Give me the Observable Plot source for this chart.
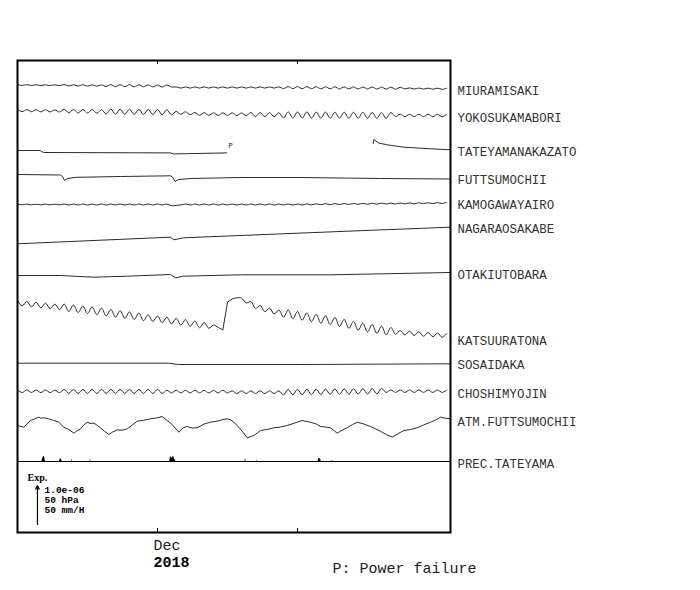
<!DOCTYPE html>
<html><head><meta charset="utf-8">
<script src="https://cdn.jsdelivr.net/npm/d3@7"></script>
<script src="https://cdn.jsdelivr.net/npm/@observablehq/plot@0.6"></script>
<style>body{margin:0;background:#fff}</style>
</head><body><div id="chart"></div>
<script>
// ---------- DATA ----------
// Values are deviations from each trace's first reading, in units of 1/40 of the scale bar
// (1 unit = 2.5e-8 strain, 1.25 hPa, 1.25 mm/H). Upward = extension / higher.
const stationNames = ["MIURAMISAKI","YOKOSUKAMABORI","TATEYAMANAKAZATO","FUTTSUMOCHII","KAMOGAWAYAIRO",
  "NAGARAOSAKABE","OTAKIUTOBARA","KATSUURATONA","SOSAIDAKA","CHOSHIMYOJIN","ATM.FUTTSUMOCHII","PREC.TATEYAMA"];

// half-day samples from 2018-11-16 00:00
const miura = [0.4,-0.4,0.3,-0.5,0.3,-0.6,0.2,-0.6,0.2,-0.7,
 0.4,-1.0,0.3,-1.1,0.3,-1.2,0.2,-1.2,0.1,-1.6,
 0.4,-1.7,0.3,-1.7,0.2,-1.8,0.2,-1.8,0.1,-1.9,
 0.0,-2.0,0.0,-2.0,-1.9,-3.1,-1.9,-3.1,-1.9,-3.1,
 -1.9,-3.1,-1.9,-3.1,-1.9,-3.1,-1.9,-3.1,-1.9,-3.1,
 -1.9,-3.1,-1.9,-3.1,-1.9,-3.1,-1.9,-3.6,-1.6,-3.6,
 -1.6,-3.7,-1.7,-3.7,-1.7,-3.8,-1.8,-3.8,-1.8,-3.9,
 -1.9,-3.9,-1.9,-4.0,-2.0,-4.0,-2.1,-4.1,-2.1,-4.1,
 -2.2,-4.2,-2.3,-3.9,-2.9,-4.0,-3.0,-4.1,-3.1,-4.2,
 -3.2,-4.3,-3.3];
const yokosuka = [1.0,-1.1,0.9,-1.2,0.8,-1.3,0.7,-1.4,0.6,-1.5,
 1.2,-2.4,1.1,-2.5,1.0,-2.6,0.9,-2.7,0.8,-3.5,
 1.4,-3.6,1.3,-3.8,1.2,-3.9,1.1,-4.0,1.0,-4.1,
 0.9,-4.2,0.8,-4.3,-0.9,-3.8,-1.3,-4.2,-2.0,-4.8,
 -2.2,-4.8,-2.3,-4.9,-2.3,-4.9,-2.4,-5.0,-2.5,-5.1,
 -2.0,-6.0,-2.1,-6.1,-2.2,-6.2,-2.3,-7.4,-1.4,-7.5,
 -1.5,-7.5,-1.5,-7.6,-1.6,-7.6,-1.6,-7.7,-1.7,-7.7,
 -1.7,-7.8,-1.8,-7.8,-1.8,-7.8,-1.9,-7.9,-2.0,-7.9,
 -2.0,-6.1,-3.7,-6.1,-3.8,-6.1,-3.8,-6.2,-3.8,-6.2,
 -3.8,-6.2,-3.8];
const kamogawa = [0.3,-0.3,0.3,-0.3,0.3,-0.3,0.3,-0.3,0.3,-0.3,
 0.5,-0.5,0.5,-0.5,0.5,-0.5,0.5,-0.5,0.5,-0.5,
 0.5,-0.5,0.5,-0.5,0.5,-0.5,0.5,-0.5,0.5,-0.5,
 0.5,-0.5,0.4,-1.3,-0.8,-0.5,0.5,-0.5,0.5,-0.5,
 0.5,-0.5,0.5,-0.5,0.5,-0.5,0.5,-0.5,0.5,-0.5,
 0.5,-0.5,0.5,-0.5,0.5,-0.5,0.5,-0.5,0.5,-0.5,
 0.5,-0.45,0.6,-0.35,0.7,-0.25,0.8,-0.15,0.9,-0.05,
 1.0,0.0,1.1,0.1,1.2,0.2,1.3,0.3,1.4,0.4,
 1.4,0.5,1.5,0.6,1.6,0.7,1.7,0.8,1.8,0.9,
 1.9,1.0,2.0];
const katsuura = [1.0,-4.5,0.1,-5.4,-0.8,-6.3,-1.7,-7.2,-2.6,-8.1,
 -2.5,-10.0,-3.5,-11.0,-4.5,-12.0,-5.5,-13.1,-6.7,-14.4,
 -8.0,-15.6,-9.2,-16.8,-10.4,-18.0,-11.6,-19.2,-13.3,-19.9,
 -14.5,-21.1,-15.7,-22.3,-16.9,-23.5,-18.1,-24.7,-19.5,-26.2,
 -21.0,-26.8,-23.6,-26.0,-28.3,-0.7,2.5,3.7,3.5,-1.5,
 0.0,-7.0,-4.0,-10.2,-6.5,-12.5,-8.5,-15.7,-8.5,-17.2,
 -10.0,-18.7,-11.4,-20.1,-12.9,-21.6,-14.3,-23.0,-16.0,-24.9,
 -17.9,-26.8,-19.8,-28.7,-21.7,-30.4,-23.1,-31.9,-24.6,-33.3,
 -26.0,-32.7,-29.0,-33.4,-29.7,-34.0,-30.3,-34.7,-31.0,-35.3,
 -31.5,-35.8,-32.0];
const choshi = [1.3,-1.3,1.3,-1.3,1.2,-1.4,1.2,-1.4,1.1,-1.5,
 1.8,-2.2,1.8,-2.2,1.8,-2.2,1.8,-2.2,1.8,-2.2,
 1.8,-2.2,1.8,-2.2,1.8,-2.2,1.8,-2.2,1.8,-2.2,
 1.8,-2.2,0.9,-1.7,0.9,-1.7,0.9,-1.7,0.9,-1.7,
 0.9,-1.7,0.9,-1.7,0.9,-1.7,0.3,-2.3,0.3,-2.3,
 0.3,-2.3,0.3,-2.3,0.3,-2.3,0.3,-3.7,1.75,-3.6,
 1.85,-3.5,1.95,-3.4,2.05,-3.3,2.15,-3.2,2.25,-3.1,
 2.35,-3.0,2.45,-2.9,2.55,-2.8,2.65,-2.75,2.7,-1.2,
 1.2,-1.2,1.2,-1.2,1.2,-1.2,1.2,-1.2,1.2,-1.2,
 1.2,-1.2,1.2];

// [day since 2018-11-16, value]
const tateyama = [[0,0],[2.4,0],[2.6,-1],[2.8,-2],[16.4,-2.4],[16.7,-3.4],[18,-3.2],[22.4,-2.4],
 [30,NaN],[38.11,7],[38.18,11],[38.68,7.5],[39.61,5.7],[41.39,3.3],[44.25,1.7],[46.39,0.7]];
const futtsu = [[0,0],[4.61,-0.5],[4.82,-2],[5.04,-6],[5.36,-4],[6.32,-2.8],[11.04,-2],[16.39,-1.3],
 [16.61,-2.5],[16.88,-7],[17.25,-5],[18.54,-4],[23.89,-3],[30.32,-3],[38.89,-4],[46.39,-4.5]];
const nagara = [[0,0],[6.43,2.6],[16.39,6.6],[16.77,4],[17.79,6],[23.89,8.3],[35.36,12.6],[46.39,16.6]];
const otaki = [[0,0],[4.61,0],[8.14,-1.7],[11.79,-0.7],[16.39,1],[16.93,-2.3],[17.79,-0.7],[23.89,0.7],[33.54,0.7],[46.39,3]];
const sosai = [[0,0],[16.18,0],[17.25,-1.3],[30.32,-1.3],[46.39,-0.6]];
const atm = [[0,0],[0.68,-1.7],[1.0,1.5],[1.39,5],[1.8,6.5],[2.28,8.3],[2.55,7.2],[2.82,7.7],[3.3,6.8],[3.89,5],
 [4.4,3.5],[4.96,-1.7],[5.5,-4],[6.03,-7.7],[6.4,-5],[6.75,-3.3],[7.1,0.5],[7.47,3.3],[7.8,2],[8.18,2.3],
 [8.5,0.5],[8.89,-2.3],[9.3,-5.5],[9.78,-9],[10.2,-6.5],[10.68,-4.3],[11.2,-4.8],[11.75,-3.3],[12.3,0.5],
 [12.83,4.3],[13.5,5.2],[14.25,6.7],[14.9,7.5],[15.5,9],[16.04,5],[16.4,2.5],[16.75,-1],[17.28,-6.7],
 [17.7,-2.5],[18.18,-1],[18.7,-2.5],[19.25,-2.3],[20.0,1.5],[20.68,3.3],[21.5,4.5],[22.0,6],[22.47,6.7],
 [22.82,5.7],[23.2,3],[23.54,0],[24.1,-6],[24.61,-12.3],[25.32,-10],[25.7,-7.5],[26.04,-5],[26.7,-4],
 [27.46,-2.3],[28.2,-1.5],[28.9,0],[29.7,2.5],[30.5,5],[31.0,4],[31.39,3.3],[32.0,1.5],[32.46,-1],
 [33.0,-1.5],[33.54,-2.3],[33.9,-5],[34.25,-7.7],[34.8,-4.5],[35.32,-2.3],[35.9,1],[36.4,3.3],[37.1,1.5],
 [37.82,-1],[38.4,-3.5],[38.89,-5.7],[39.5,-9],[40.15,-11.7],[40.8,-8],[41.39,-5],[42.1,-4],[42.82,-2.3],
 [43.5,0.5],[44.25,3.3],[44.8,5.5],[45.32,8.3],[45.9,7.2],[46.39,6.7]];
const prec = [[0,0],[2.6,0],[2.7,3],[2.8,5],[2.9,4.5],[3.0,0],[4.5,0],[4.6,3],[4.7,2],[4.8,0],[5.8,0],[5.86,1.7],[5.92,0],
 [7.76,0],[7.82,1.7],[7.88,0],[16.3,0],[16.4,5],[16.55,3],[16.7,5.5],[16.85,2],[17.0,0],[24.37,0],[24.43,2.7],[24.5,0],
 [25.62,0],[25.68,1],[25.74,0],[32.2,0],[32.3,3.3],[32.45,2.5],[32.55,0],[33.66,0],[33.72,1],[33.78,0],[46.39,0]];

const tickDays = [15, 30];          // Dec 1, Dec 16
const monthLabel = "Dec", yearLabel = "2018";
const scaleTexts = ["1.0e-06", "50 hPa", "50 mm/H"];

// ---------- LAYOUT ----------
const DAY = 864e5, T0 = Date.UTC(2018, 10, 16), SPAN = 46.39;
const at = d => new Date(T0 + d * DAY);
const offsets = [447.5, 422, 382, 358, 328, 288.7, 257, 231, 169.3, 141.3, 107, 71];
const labelLevel = [441, 414, 380, 352, 327, 303, 257, 191, 167, 138, 110, 68];

const half = (arr, k) => arr.map((v, i) => ({name: stationNames[k], t: at(i * 0.5), y: offsets[k] + v}));
const pairs = (arr, k) => arr.map(([d, v]) => ({name: stationNames[k], t: at(d), y: offsets[k] + v}));
const wiggly = [...half(miura, 0), ...half(yokosuka, 1), ...half(kamogawa, 4), ...half(choshi, 9)];
const katsuRows = half(katsuura, 7);
const smooth = [...pairs(tateyama, 2), ...pairs(futtsu, 3), ...pairs(nagara, 5), ...pairs(otaki, 6),
  ...pairs(sosai, 8), ...pairs(atm, 10)];
const precRows = prec.map(([d, v]) => ({t: at(d), y: offsets[11] + v}));
const labels = stationNames.map((n, i) => ({n, y: labelLevel[i]}));

const mono = "Liberation Mono, DejaVu Sans Mono, monospace";
const ink = "#2a2a2a";
const scaleMarks = scaleTexts.map((s, i) => Plot.text([s], {frameAnchor: "bottom-left", text: d => d,
  textAnchor: "start", dx: 27, dy: -40 + i * 10, fontFamily: mono, fontWeight: "bold", fontSize: 9.5, fill: "#000"}));

const chart = Plot.plot({
  width: 700, height: 590,
  marginLeft: 17, marginRight: 250, marginTop: 60, marginBottom: 58,
  x: {type: "utc", domain: [at(0), at(SPAN)], axis: null},
  y: {domain: [0, 472], axis: null},
  marks: [
    Plot.areaY(precRows, {x: "t", y1: () => offsets[11], y2: "y", fill: "#000", curve: "linear"}),
    Plot.ruleY([offsets[11]], {stroke: "#000", strokeWidth: 1}),
    Plot.line(wiggly, {x: "t", y: "y", z: "name", stroke: ink, strokeWidth: 1, curve: "catmull-rom"}),
    Plot.line(katsuRows.slice(0, 45), {x: "t", y: "y", stroke: ink, strokeWidth: 1, curve: "catmull-rom"}),
    Plot.line(katsuRows.slice(44, 46), {x: "t", y: "y", stroke: ink, strokeWidth: 1}),
    Plot.line(katsuRows.slice(45), {x: "t", y: "y", stroke: ink, strokeWidth: 1, curve: "catmull-rom"}),
    Plot.line(smooth, {x: "t", y: "y", z: "name", stroke: ink, strokeWidth: 1}),
    Plot.text([0], {x: () => at(22.4), y: () => offsets[2] - 2.4, text: () => "P", dx: 4, dy: -7,
      fontSize: 7, fontFamily: mono, fill: "#222"}),
    Plot.ruleX(tickDays, {x: d => at(d), y1: 0, y2: 4, stroke: "#000", strokeWidth: 1}),
    Plot.ruleX(tickDays, {x: d => at(d), y1: 468, y2: 472, stroke: "#000", strokeWidth: 1}),
    Plot.frame({stroke: "#000", strokeWidth: 2}),
    Plot.text(labels, {x: () => at(SPAN), y: "y", text: "n", textAnchor: "start", dx: 7,
      fontFamily: mono, fontSize: 12.4, fill: "#333"}),
    Plot.text([0], {x: () => at(tickDays[0]), frameAnchor: "bottom", text: () => monthLabel,
      textAnchor: "start", dx: -4, dy: 17, fontFamily: mono, fontSize: 15, fill: "#222"}),
    Plot.text([0], {x: () => at(tickDays[0]), frameAnchor: "bottom", text: () => yearLabel,
      textAnchor: "start", dx: -4, dy: 34, fontFamily: mono, fontSize: 15, fontWeight: "bold", fill: "#000"}),
    Plot.text([0], {frameAnchor: "bottom-left", text: () => "P: Power failure", textAnchor: "start",
      dx: 315, dy: 40, fontFamily: mono, fontSize: 15, fill: "#222"}),
    Plot.arrow([0], {x1: () => at(2.14), x2: () => at(2.14), y1: () => 8, y2: () => 47,
      stroke: "#000", strokeWidth: 1.2, headLength: 5, headAngle: 50}),
    Plot.text([0], {frameAnchor: "bottom-left", text: () => "Exp.", textAnchor: "start", dx: 10, dy: -52,
      fontFamily: "Liberation Serif, serif", fontWeight: "bold", fontSize: 10, fill: "#000"}),
    ...scaleMarks
  ]
});
document.getElementById("chart").append(chart);
</script></body></html>
